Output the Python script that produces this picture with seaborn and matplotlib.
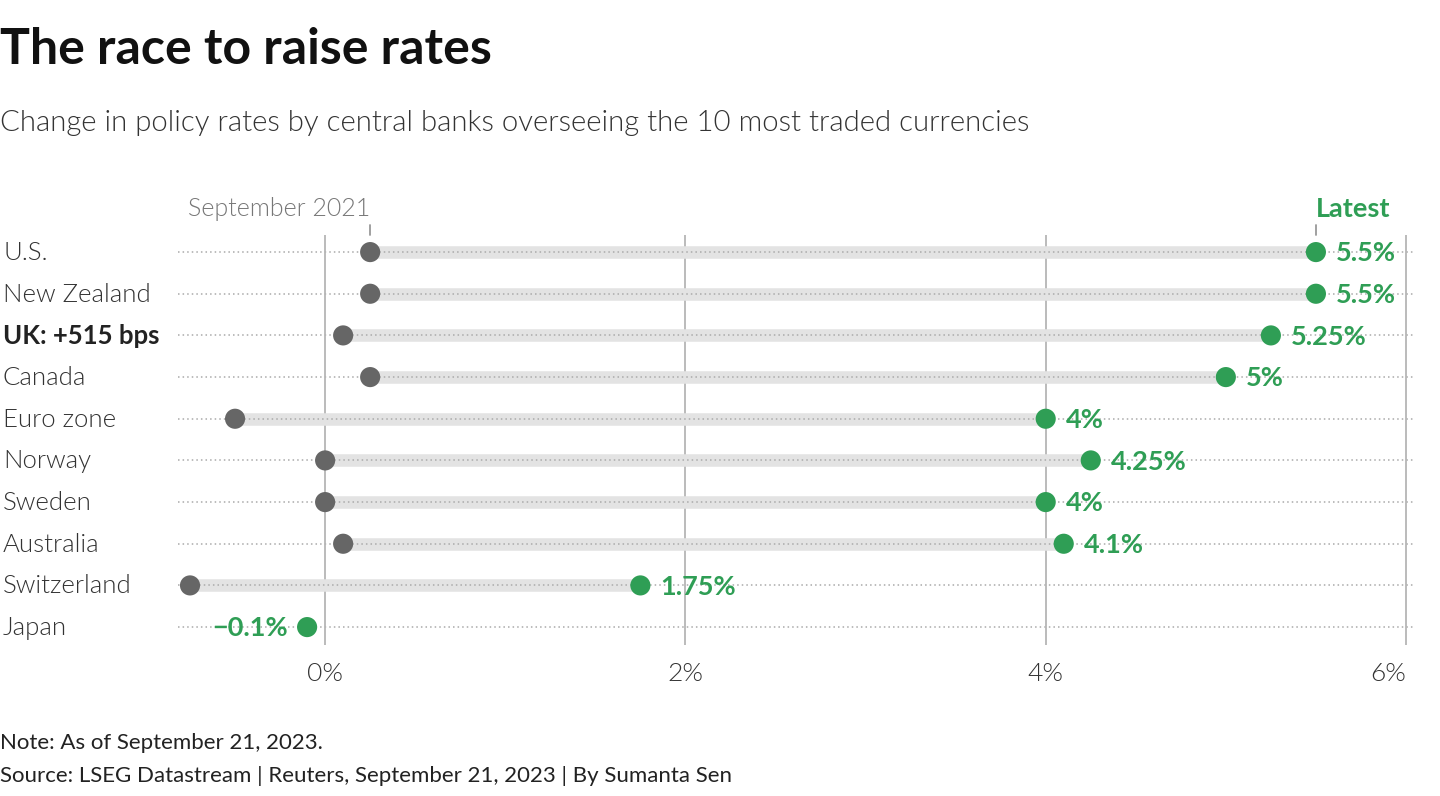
import numpy as np
import pandas as pd
import seaborn as sns
import matplotlib.pyplot as plt

# data
countries = ["U.S.", "New Zealand", "UK: +515 bps", "Canada", "Euro zone",
             "Norway", "Sweden", "Australia", "Switzerland", "Japan"]
sep_2021 = [0.25, 0.25, 0.1, 0.25, -0.5, 0.0, 0.0, 0.1, -0.75, -0.1]
latest = [5.5, 5.5, 5.25, 5.0, 4.0, 4.25, 4.0, 4.1, 1.75, -0.1]
value_labels = ["5.5%", "5.5%", "5.25%", "5%", "4%", "4.25%", "4%", "4.1%", "1.75%", "\u22120.1%"]
x_ticks = [0, 2, 4, 6]
x_tick_labels = ["0%", "2%", "4%", "6%"]

df = pd.DataFrame({"country": countries, "start": sep_2021, "end": latest})
df["row"] = np.arange(len(df))

GREEN = "#2f9e55"
DARK = "#666666"
FONT = "Lato"
LIGHT = 300

sns.set_theme(style="white")
plt.rcParams["font.family"] = [FONT, "DejaVu Sans"]

fig = plt.figure(figsize=(14.4, 7.96), dpi=100)
W, H = 1440, 796
left, right, top, bottom = 178, 1415, 235, 645
ax = fig.add_axes([left / W, 1 - bottom / H, (right - left) / W, (bottom - top) / H])

ax.set_xlim(-0.8167, 6.05)
ax.set_ylim(9.43, -0.41)

# gridlines
for t in x_ticks:
    ax.axvline(t, color="#b5b5b5", lw=1.3, zorder=1)

# dotted row lines
for r in df["row"]:
    ax.axhline(r, color="#aaaaaa", lw=1.1, ls=(0, (1, 2)), zorder=0)

# range bars (Japan did not move)
moved = df["start"] != df["end"]
ax.hlines(df.loc[moved, "row"], df.loc[moved, "start"], df.loc[moved, "end"],
          color="#e3e3e3", lw=9, zorder=2)
ax.hlines(df.loc[moved, "row"], df.loc[moved, "start"], df.loc[moved, "end"],
          color="#aaaaaa", lw=1.1, ls=(0, (1, 2)), zorder=2.5)

sns.scatterplot(data=df[moved], x="start", y="row", color=DARK, s=210,
                edgecolor="none", zorder=4, ax=ax, legend=False)
sns.scatterplot(data=df, x="end", y="row", color=GREEN, s=210,
                edgecolor="none", zorder=5, ax=ax, legend=False)

# value labels
for r, v, lab in zip(df["row"], df["end"], value_labels):
    if v < 0:
        ax.text(v - 0.11, r + 0.03, lab, ha="right", va="center", color=GREEN,
                fontsize=19.5, fontweight="bold", zorder=6)
    else:
        ax.text(v + 0.11, r + 0.03, lab, ha="left", va="center", color=GREEN,
                fontsize=19.5, fontweight="bold", zorder=6)

# country labels
for r, c in zip(df["row"], df["country"]):
    fig.text(3 / W, 1 - (253 + r * 41.67) / H, c, ha="left", va="center",
             fontsize=18.5, color="#222222" if r == 2 else "#333333",
             fontweight="bold" if r == 2 else LIGHT)

# column headers
ax.plot([0.25, 0.25], [-0.41, -0.65], color="#999999", lw=1.3, clip_on=False)
ax.text(0.25, -0.74, "September 2021", ha="right", va="bottom", fontsize=18,
        color="#777777", fontweight=LIGHT)
ax.plot([5.5, 5.5], [-0.41, -0.65], color="#999999", lw=1.3, clip_on=False)
ax.text(5.5, -0.74, "Latest", ha="left", va="bottom", fontsize=19.5,
        color=GREEN, fontweight="bold")

ax.set_xticks(x_ticks)
ax.set_xticklabels(x_tick_labels, fontsize=19, color="#333333", fontweight=LIGHT)
ax.get_xticklabels()[-1].set_horizontalalignment("right")
ax.tick_params(axis="x", length=0, pad=12)
ax.set_yticks([])
ax.set_xlabel("")
ax.set_ylabel("")
for s in ax.spines.values():
    s.set_visible(False)

fig.text(0, 1 - 50 / H, "The race to raise rates", fontsize=36, fontweight="bold",
         color="#111111", ha="left", va="center")
fig.text(0, 1 - 123 / H, "Change in policy rates by central banks overseeing the 10 most traded currencies",
         fontsize=21.2, fontweight=LIGHT, color="#333333", ha="left", va="center")
fig.text(0, 1 - 743 / H, "Note: As of September 21, 2023.", fontsize=16,
         color="#222222", ha="left", va="center")
fig.text(0, 1 - 776 / H, "Source: LSEG Datastream | Reuters, September 21, 2023 | By Sumanta Sen",
         fontsize=16, color="#222222", ha="left", va="center")

fig.savefig("out.png", dpi=100)
